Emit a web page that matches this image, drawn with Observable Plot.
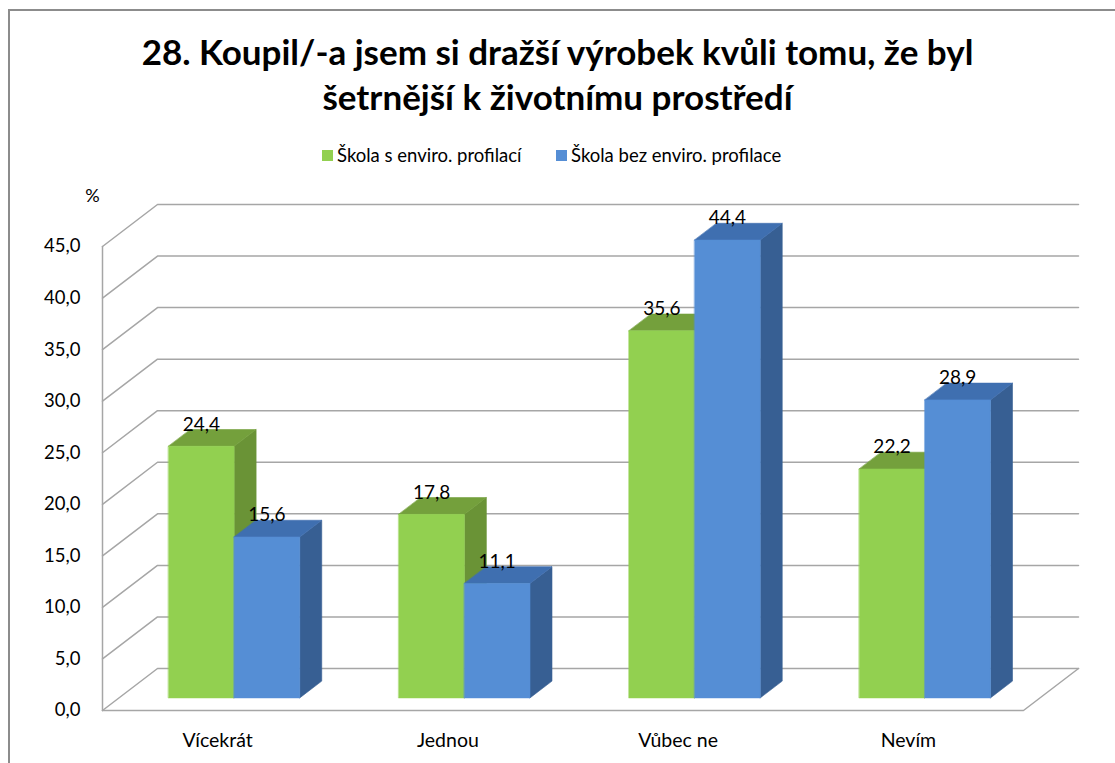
<!DOCTYPE html>
<html><head><meta charset="utf-8">
<script src="https://cdn.jsdelivr.net/npm/d3@7"></script>
<script src="https://cdn.jsdelivr.net/npm/@observablehq/plot@0.6"></script>
<style>
body{margin:0;background:#fff;font-family:Lato,"Open Sans",sans-serif;color:#000;}
#frame{position:absolute;left:8px;top:9px;width:1107px;height:754px;border-left:2px solid #8c8c8c;border-top:2px solid #8c8c8c;box-sizing:border-box;}
#title{position:absolute;left:0;width:1115px;top:29px;text-align:center;font-weight:bold;font-size:35px;line-height:45px;}
#legend{position:absolute;top:144px;left:0;width:1115px;font-size:18.5px;height:22px;}
.item{position:absolute;top:0;display:flex;align-items:center;white-space:nowrap;}
.sw{width:11px;height:11px;margin-right:4px;}
#chart{position:absolute;left:0;top:175px;}
</style></head>
<body>
<div id="frame"></div>
<div id="title">28. Koupil/-a jsem si dražší výrobek kvůli tomu, že byl<br>šetrnější k životnímu prostředí</div>
<div id="legend"></div>
<div id="chart"></div>
<script>
const categories = ["Vícekrát", "Jednou", "Vůbec ne", "Nevím"];
const seriesNames = ["Škola s enviro. profilací", "Škola bez enviro. profilace"];
const withProfile = [24.4, 17.8, 35.6, 22.2];
const withoutProfile = [15.6, 11.1, 44.4, 28.9];
const yTicks = [0, 5, 10, 15, 20, 25, 30, 35, 40, 45];
const yTickLabels = ["0,0", "5,0", "10,0", "15,0", "20,0", "25,0", "30,0", "35,0", "40,0", "45,0"];

const frontColors = ["#92d050", "#558ed5"];
const topColors = ["#74a03c", "#3f6fb0"];
const sideColors = ["#6a9336", "#375f93"];

// legend
const legend = document.getElementById("legend");
const legendX = [322, 556];
seriesNames.forEach((n, i) => {
  const d = document.createElement("div");
  d.className = "item";
  d.style.left = legendX[i] + "px";
  d.innerHTML = `<span class="sw" style="background:${frontColors[i]}"></span><span>${n}</span>`;
  legend.appendChild(d);
});

// 3D projection offsets (in data units)
const DX = 0.2389, DY = 4.074;
const D0 = 0.3, D1 = 0.7, HW = 0.285;
const yMax = 45;

const series = [withProfile, withoutProfile];
const polys = [];
const labels = [];
categories.forEach((c, i) => {
  series.forEach((vals, s) => {
    const v = vals[i];
    const x1 = i + 0.5 + (s === 0 ? -HW : 0), x2 = x1 + HW;
    const fx = DX * D0, fy = DY * D0, bx = DX * D1, by = DY * D1;
    const id = `${i}-${s}`;
    const push = (part, col, pts) => pts.forEach(([x, y]) => polys.push({id: id + part, x, y, col}));
    push("s", sideColors[s], [[x2 + fx, fy], [x2 + bx, by], [x2 + bx, v + by], [x2 + fx, v + fy]]);
    push("t", topColors[s], [[x1 + fx, v + fy], [x2 + fx, v + fy], [x2 + bx, v + by], [x1 + bx, v + by]]);
    push("f", frontColors[s], [[x1 + fx, fy], [x2 + fx, fy], [x2 + fx, v + fy], [x1 + fx, v + fy]]);
    labels.push({x: (x1 + x2) / 2 + fx, y: v + by, text: v.toFixed(1).replace(".", ",")});
  });
});

const grid = [];
yTicks.forEach(t => {
  grid.push({t, x: 0, y: t}, {t, x: DX, y: t + DY}, {t, x: categories.length + DX, y: t + DY});
});
const n = categories.length;
const floor = [
  {k: "front", x: 0, y: 0}, {k: "front", x: n, y: 0}, {k: "front", x: n + DX, y: DY},
  {k: "axis", x: 0, y: 0}, {k: "axis", x: 0, y: yMax}
];

const chart = Plot.plot({
  width: 1115, height: 588,
  marginLeft: 102, marginRight: 37, marginTop: 29, marginBottom: 53,
  x: {domain: [0, n + DX], axis: null},
  y: {domain: [0, yMax + DY], axis: null},
  color: {type: "identity"},
  style: {fontFamily: "Lato, 'Open Sans', sans-serif", background: "transparent", overflow: "visible"},
  marks: [
    Plot.line(grid, {x: "x", y: "y", z: "t", stroke: "#a6a6a6", strokeWidth: 1.5}),
    Plot.line(floor, {x: "x", y: "y", z: "k", stroke: "#a6a6a6", strokeWidth: 1.5}),
    Plot.line(polys, {x: "x", y: "y", z: "id", fill: "col", stroke: "col", strokeWidth: 0.6, curve: "linear-closed"}),
    Plot.text(labels, {x: "x", y: "y", text: "text", dy: -5, fontSize: 19, fill: "#000"}),
    Plot.text(yTicks, {x: () => 0, y: d => d, text: (d, i) => yTickLabels[i], dx: -22, textAnchor: "end", fontSize: 18.5, fill: "#000"}),
    Plot.text(["%"], {x: () => 0, y: () => yMax + DY, dx: -10, dy: -8, fontSize: 18, fill: "#000"}),
    Plot.text(categories, {x: (d, i) => i + 0.5, y: () => 0, text: d => d, dy: 30, fontSize: 19.5, fill: "#000"})
  ]
});
document.getElementById("chart").appendChild(chart);
</script>
</body></html>
